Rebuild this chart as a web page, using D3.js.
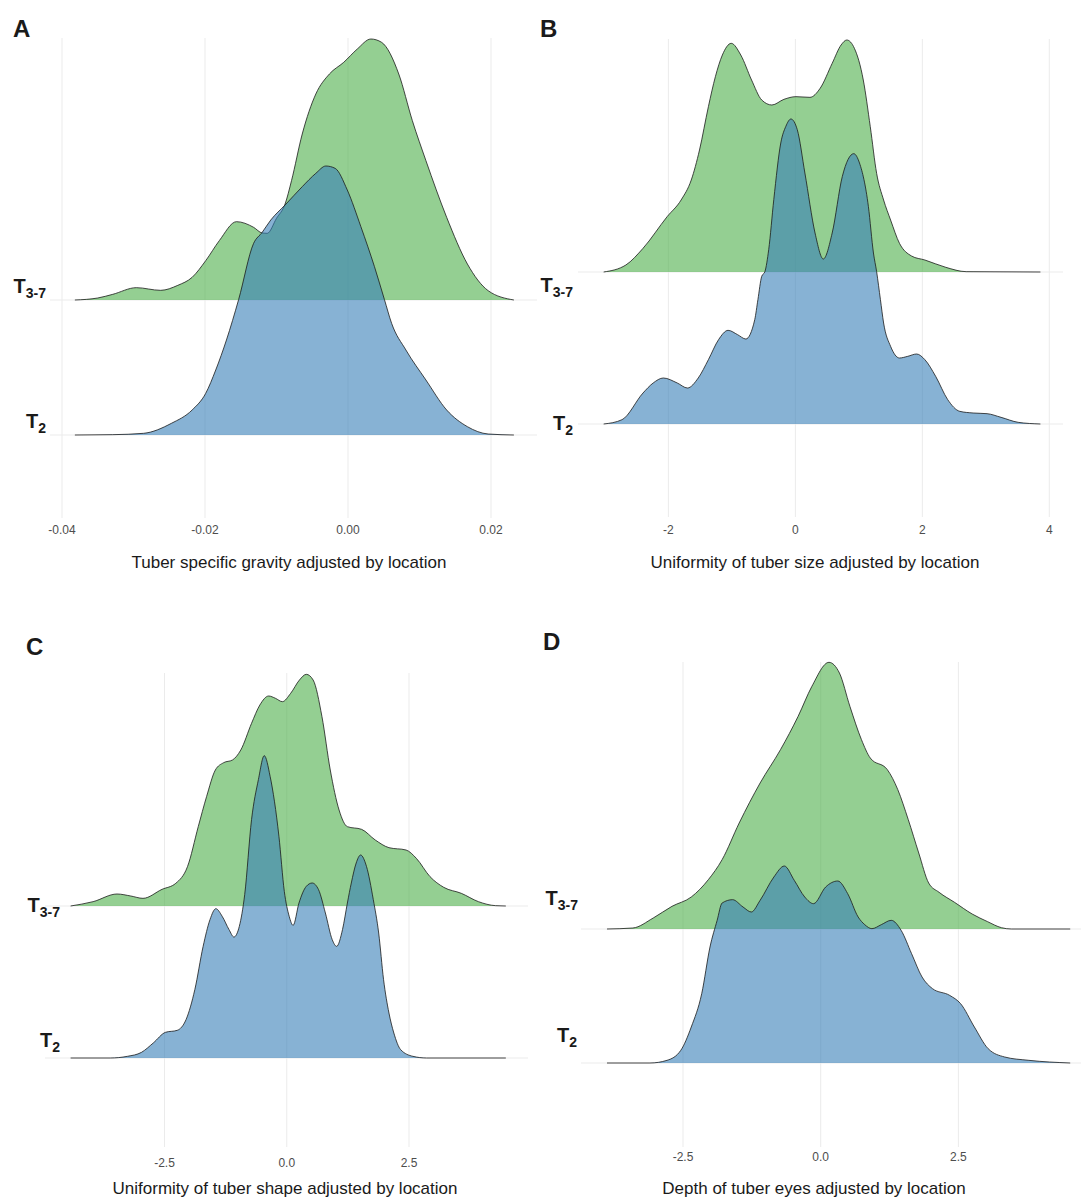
<!DOCTYPE html>
<html><head><meta charset="utf-8">
<script src="https://cdn.jsdelivr.net/npm/d3@7"></script>
<style>body{margin:0;background:#fff}svg{display:block;font-family:"Liberation Sans",Arial,sans-serif}</style>
</head><body>
<svg id="chart" width="1081" height="1200"></svg>
<script>
// ---------- data ----------
const categories = ["T3-7", "T2"];
const categorySubs = ["3-7", "2"];
const panelLetters = ["A", "B", "C", "D"];
const axisTitles = [
  "Tuber specific gravity adjusted by location",
  "Uniformity of tuber size adjusted by location",
  "Uniformity of tuber shape adjusted by location",
  "Depth of tuber eyes adjusted by location"
];
const ticksA = [-0.04, -0.02, 0, 0.02];
const tickLabelsA = ["-0.04", "-0.02", "0.00", "0.02"];
const ticksB = [-2, 0, 2, 4];
const tickLabelsB = ["-2", "0", "2", "4"];
const ticksC = [-2.5, 0, 2.5];
const tickLabelsC = ["-2.5", "0.0", "2.5"];
const ticksD = [-2.5, 0, 2.5];
const tickLabelsD = ["-2.5", "0.0", "2.5"];

// density ridges: [value, relative density]
const t37A = [[-0.0382,0],[-0.035,0.06],[-0.0329,0.17],[-0.0296,0.37],[-0.0262,0.29],[-0.0238,0.44],[-0.0218,0.68],[-0.0199,1.18],[-0.0180,1.78],[-0.0156,2.35],[-0.0132,2.18],[-0.0120,2.01],[-0.0113,2.0],[-0.0100,2.45],[-0.0088,2.88],[-0.0079,3.58],[-0.0064,4.98],[-0.0045,6.18],[-0.0026,6.78],[-0.0006,7.13],[0.0013,7.53],[0.0032,7.83],[0.0047,7.73],[0.0071,6.78],[0.0090,5.38],[0.0109,4.18],[0.0138,2.48],[0.0167,1.08],[0.0196,0.28],[0.0232,0]];
const t2A = [[-0.0382,0],[-0.0329,0.01],[-0.0286,0.05],[-0.0247,0.35],[-0.0218,0.75],[-0.0199,1.25],[-0.0185,1.95],[-0.0170,2.85],[-0.0153,4.06],[-0.0132,5.75],[-0.0120,6.08],[-0.0108,6.45],[-0.0088,6.90],[-0.0064,7.45],[-0.0045,7.85],[-0.0031,8.07],[-0.0018,8.00],[-0.0001,7.35],[0.0018,6.25],[0.0037,5.05],[0.0051,4.06],[0.0061,3.35],[0.0081,2.55],[0.0109,1.65],[0.0138,0.75],[0.0167,0.25],[0.0196,0.03],[0.0232,0]];

const t37B = [[-3.02,0],[-2.67,0.21],[-2.40,0.71],[-2.02,1.66],[-1.80,2.16],[-1.64,2.76],[-1.51,3.66],[-1.37,4.96],[-1.26,5.86],[-1.15,6.51],[-1.01,6.86],[-0.86,6.51],[-0.69,5.76],[-0.53,5.16],[-0.37,5.01],[-0.18,5.18],[0.01,5.26],[0.23,5.24],[0.39,5.51],[0.58,6.26],[0.72,6.81],[0.81,6.96],[0.93,6.71],[1.07,5.76],[1.18,4.36],[1.28,2.96],[1.39,2.16],[1.50,1.56],[1.64,0.86],[1.83,0.48],[2.04,0.36],[2.37,0.14],[2.69,0.01],[3.86,0]];
const t2B = [[-3.02,0],[-2.73,0.13],[-2.40,0.93],[-2.24,1.23],[-2.08,1.38],[-1.86,1.23],[-1.70,1.08],[-1.53,1.38],[-1.37,1.93],[-1.21,2.53],[-1.06,2.81],[-0.91,2.68],[-0.78,2.55],[-0.64,3.13],[-0.59,3.73],[-0.53,4.43],[-0.48,4.57],[-0.42,5.23],[-0.34,6.73],[-0.23,8.43],[-0.15,8.93],[-0.07,9.15],[0.03,8.83],[0.15,7.53],[0.31,5.73],[0.44,4.95],[0.58,5.73],[0.74,7.43],[0.92,8.11],[1.01,7.83],[1.15,6.53],[1.23,5.13],[1.28,4.57],[1.34,3.73],[1.39,3.03],[1.50,2.33],[1.64,1.98],[1.77,2.03],[1.91,2.10],[2.04,1.93],[2.21,1.43],[2.40,0.73],[2.59,0.38],[2.80,0.33],[3.02,0.31],[3.24,0.20],[3.51,0.05],[3.86,0]];

const t37C = [[-4.42,0],[-3.96,0.13],[-3.47,0.36],[-3.19,0.30],[-2.94,0.23],[-2.55,0.50],[-2.27,0.68],[-2.03,1.18],[-1.81,2.38],[-1.64,3.28],[-1.46,4.08],[-1.29,4.30],[-1.11,4.38],[-0.94,4.68],[-0.72,5.48],[-0.55,6.03],[-0.37,6.30],[-0.23,6.23],[-0.09,6.13],[0.08,6.38],[0.26,6.78],[0.40,6.95],[0.54,6.78],[0.72,5.68],[0.89,4.08],[1.07,2.88],[1.24,2.38],[1.53,2.30],[1.81,1.98],[2.09,1.75],[2.44,1.68],[2.65,1.43],[2.93,0.88],[3.21,0.56],[3.57,0.38],[3.92,0.13],[4.27,0.01],[4.48,0]];
const t2C = [[-4.42,0],[-3.61,0],[-3.26,0.05],[-2.97,0.17],[-2.73,0.45],[-2.48,0.77],[-2.24,0.83],[-2.06,1.15],[-1.88,2.05],[-1.71,3.35],[-1.57,4.15],[-1.45,4.48],[-1.32,4.25],[-1.18,3.85],[-1.08,3.63],[-0.97,3.95],[-0.86,4.90],[-0.72,7.15],[-0.58,8.35],[-0.46,9.07],[-0.34,8.45],[-0.16,6.65],[-0.05,5.00],[0.05,4.25],[0.13,3.98],[0.25,4.65],[0.40,5.15],[0.52,5.25],[0.65,5.05],[0.79,4.35],[0.93,3.55],[1.02,3.35],[1.14,3.85],[1.24,4.65],[1.32,5.25],[1.42,5.85],[1.51,6.09],[1.63,5.75],[1.77,4.75],[1.88,3.75],[1.98,2.35],[2.09,1.35],[2.19,0.75],[2.33,0.25],[2.58,0.05],[2.86,0],[4.48,0]];

const t37D = [[-3.88,0],[-3.41,0.03],[-3.04,0.33],[-2.70,0.68],[-2.35,0.96],[-2.04,1.48],[-1.79,2.08],[-1.48,3.18],[-1.10,4.38],[-0.73,5.38],[-0.41,6.38],[-0.16,7.28],[0.15,8.00],[0.34,7.68],[0.53,6.68],[0.74,5.68],[0.90,5.13],[1.21,4.78],[1.40,4.18],[1.59,3.28],[1.78,2.28],[1.96,1.38],[2.15,1.10],[2.43,0.80],[2.75,0.45],[3.03,0.22],[3.28,0.04],[3.46,0],[4.53,0]];
const t2D = [[-3.88,0],[-3.10,0],[-2.79,0.08],[-2.54,0.38],[-2.35,1.08],[-2.16,2.08],[-2.01,3.48],[-1.88,4.28],[-1.79,4.80],[-1.60,4.90],[-1.41,4.68],[-1.26,4.53],[-1.10,4.88],[-0.85,5.58],[-0.66,5.91],[-0.48,5.48],[-0.29,4.98],[-0.13,4.78],[0.09,5.28],[0.31,5.46],[0.49,5.08],[0.68,4.38],[0.80,4.15],[0.93,4.03],[1.10,4.15],[1.28,4.28],[1.46,3.98],[1.65,3.28],[1.84,2.58],[2.03,2.23],[2.34,2.03],[2.54,1.78],[2.79,1.08],[3.04,0.43],[3.34,0.18],[3.78,0.08],[4.53,0]];

// ---------- layout ----------
const panels = [
  {letter: panelLetters[0], title: axisTitles[0], ticks: ticksA, labels: tickLabelsA, series: [t37A, t2A],
   dom: [-0.04, 0.02], rng: [62, 491], base: [300, 435], gx: [50, 537], gy: [38, 518],
   tickY: 534, titleX: 289, titleY: 568, letterXY: [13, 37],
   catLab: [[46, 293], [46, 428]]},
  {letter: panelLetters[1], title: axisTitles[1], ticks: ticksB, labels: tickLabelsB, series: [t37B, t2B],
   dom: [-2, 4], rng: [668.4, 1049.3], base: [272, 424], gx: [578, 1063], gy: [39, 517],
   tickY: 534, titleX: 815, titleY: 568, letterXY: [540, 37],
   catLab: [[573, 292], [573, 430]]},
  {letter: panelLetters[2], title: axisTitles[2], ticks: ticksC, labels: tickLabelsC, series: [t37C, t2C],
   dom: [-2.5, 2.5], rng: [164.5, 409], base: [906, 1058], gx: [45, 528], gy: [673, 1147],
   tickY: 1167, titleX: 285, titleY: 1194, letterXY: [26, 655],
   catLab: [[60, 912], [60, 1047]]},
  {letter: panelLetters[3], title: axisTitles[3], ticks: ticksD, labels: tickLabelsD, series: [t37D, t2D],
   dom: [-2.5, 2.5], rng: [683, 958.4], base: [929, 1063], gx: [581, 1081], gy: [662, 1147],
   tickY: 1161, titleX: 814, titleY: 1194, letterXY: [543, 650],
   catLab: [[578, 905], [577, 1042]]}
];

const fills = ["#4DAF4A", "#377EB8"];
const svg = d3.select("#chart");

panels.forEach(p => {
  const g = svg.append("g");
  const x = d3.scaleLinear().domain(p.dom).range(p.rng);
  const yCat = d3.scalePoint().domain(categories).range(p.base).padding(0);
  const h = d3.scaleLinear().domain([0, 1]).range([0, 100 / 3]);

  // vertical grid
  g.selectAll("line.vg").data(p.ticks).join("line")
    .attr("x1", d => x(d)).attr("x2", d => x(d))
    .attr("y1", p.gy[0]).attr("y2", p.gy[1])
    .attr("stroke", "#ebebeb").attr("stroke-width", 1);
  // horizontal grid at baselines
  g.selectAll("line.hg").data(categories).join("line")
    .attr("x1", p.gx[0]).attr("x2", p.gx[1])
    .attr("y1", d => yCat(d)).attr("y2", d => yCat(d))
    .attr("stroke", "#ebebeb").attr("stroke-width", 1);

  categories.forEach((c, i) => {
    const b = yCat(c);
    const area = d3.area().curve(d3.curveMonotoneX)
      .x(d => x(d[0])).y0(b).y1(d => b - h(d[1]));
    const line = d3.line().curve(d3.curveMonotoneX)
      .x(d => x(d[0])).y(d => b - h(d[1]));
    g.append("path").datum(p.series[i]).attr("d", area)
      .attr("fill", fills[i]).attr("fill-opacity", 0.6);
    g.append("path").datum(p.series[i]).attr("d", line)
      .attr("fill", "none").attr("stroke", "#1a1a1a").attr("stroke-width", 0.8);
  });

  // tick labels
  g.selectAll("text.tk").data(p.ticks).join("text")
    .attr("x", d => x(d)).attr("y", p.tickY)
    .attr("text-anchor", "middle").attr("font-size", 12).attr("fill", "#4d4d4d")
    .text((d, i) => p.labels[i]);

  // axis title
  g.append("text").attr("x", p.titleX).attr("y", p.titleY)
    .attr("text-anchor", "middle").attr("font-size", 17).attr("fill", "#1a1a1a")
    .text(p.title);

  // panel letter
  g.append("text").attr("x", p.letterXY[0]).attr("y", p.letterXY[1])
    .attr("font-size", 24).attr("font-weight", "bold").attr("fill", "#1a1a1a")
    .text(p.letter);

  // category labels T with subscript
  categories.forEach((c, i) => {
    const t = g.append("text").attr("x", p.catLab[i][0]).attr("y", p.catLab[i][1])
      .attr("text-anchor", "end").attr("font-weight", "bold").attr("font-size", 20).attr("fill", "#1a1a1a");
    t.append("tspan").text("T");
    t.append("tspan").attr("font-size", 14).attr("dy", 5).text(categorySubs[i]);
  });
});
</script>
</body></html>
